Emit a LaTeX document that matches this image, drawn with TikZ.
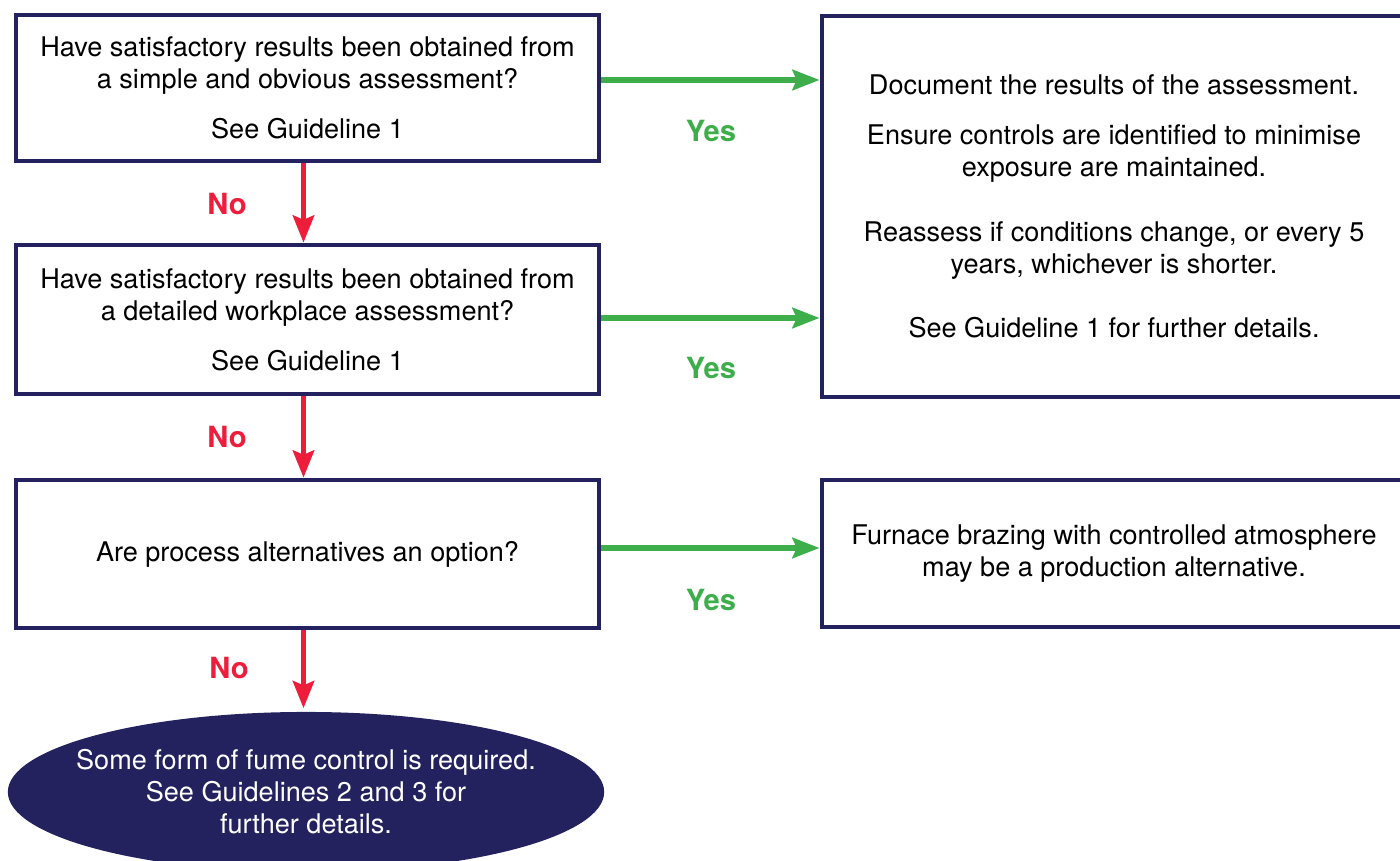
\documentclass[tikz,border=0pt]{standalone}
\usepackage{fontspec}
\setmainfont{TeX Gyre Heros}
\usetikzlibrary{arrows.meta,shapes.geometric}
\definecolor{navy}{HTML}{23215E}
\definecolor{yesgreen}{HTML}{3DAE49}
\definecolor{nored}{HTML}{EE1D3B}
\begin{document}
\begin{tikzpicture}[x=0.01cm,y=-0.01cm,
  txt/.style={font=\fontsize{7.7}{9.1}\selectfont},
  qbox/.style={txt,draw=navy,line width=1.3pt,minimum width=5.83cm,align=center},
  rbox/.style={txt,draw=navy,line width=1.3pt,minimum width=5.84cm,align=center},
  yesarrow/.style={draw=yesgreen,line width=1.5pt,-{Stealth[length=7.7pt,width=5.8pt,inset=1.2pt]}},
  noarrow/.style={draw=nored,line width=1.6pt,-{Stealth[length=7.7pt,width=6pt,inset=1.2pt]}},
  yeslbl/.style={text=yesgreen,font=\fontsize{8.3}{10}\selectfont\bfseries},
  nolbl/.style={text=nored,font=\fontsize{8.3}{10}\selectfont\bfseries}]
\clip (0,0) rectangle (1400,861);
\useasboundingbox (0,0) rectangle (1400,861);

\node[qbox,minimum height=1.46cm] (q1) at (307.5,88)
  {Have satisfactory results been obtained from\\
   a simple and obvious assessment?\\[5.1pt]
   See Guideline 1};
\node[qbox,minimum height=1.49cm] (q2) at (307.5,319.5)
  {Have satisfactory results been obtained from\\
   a detailed workplace assessment?\\[5.1pt]
   See Guideline 1};
\node[qbox,minimum height=1.48cm] (q3) at (307.5,554)
  {Are process alternatives an option?};

\node[rbox,minimum height=3.81cm] (doc) at (1114,206.5)
  {Document the results of the assessment.\\[5.1pt]
   Ensure controls are identified to minimise\\
   exposure are maintained.\\[9.4pt]
   Reassess if conditions change, or every 5\\
   years, whichever is shorter.\\[9.1pt]
   See Guideline 1 for further details.};
\node[rbox,minimum height=1.47cm] (furn) at (1114,553.5)
  {Furnace brazing with controlled atmosphere\\
   may be a production alternative.};

\node[ellipse,fill=navy,text=white,txt,align=center,inner xsep=-0.3cm,inner ysep=0pt,
  minimum width=5.96cm,minimum height=1.6cm] (fume) at (306,792)
  {Some form of fume control is required.\\
   See Guidelines 2 and 3 for\\
   further details.};

\draw[yesarrow] ([yshift=0.08cm]q1.east) -- ([yshift=0.08cm]q1.east -| doc.west);
\draw[yesarrow] ([yshift=0.015cm]q2.east) -- ([yshift=0.015cm]q2.east -| doc.west);
\draw[yesarrow] ([yshift=0.06cm]q3.east) -- ([yshift=0.06cm]q3.east -| furn.west);
\node[yeslbl] (y1) at (711,131) {Yes};
\node[yeslbl] (y2) at (711,368) {Yes};
\node[yeslbl] (y3) at (711,600) {Yes};

\draw[noarrow] ([xshift=-0.04cm]q1.south) -- ([xshift=-0.04cm]q2.north);
\draw[noarrow] ([xshift=-0.04cm]q2.south) -- ([xshift=-0.04cm]q3.north);
\draw[noarrow] ([xshift=-0.04cm]q3.south) -- ([xshift=-0.04cm,yshift=0.03cm]q3.south |- fume.north);
\node[nolbl] (n1) at (227,204) {No};
\node[nolbl] (n2) at (227,437) {No};
\node[nolbl] (n3) at (229,668) {No};
\end{tikzpicture}
\end{document}
